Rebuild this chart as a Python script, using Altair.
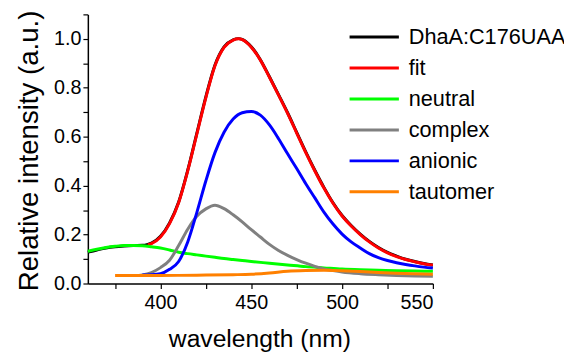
import altair as alt
import pandas as pd

series_names = ["DhaA:C176UAA", "fit", "neutral", "complex", "anionic", "tautomer"]
series_colors = ["#000000", "#ff0000", "#00ff00", "#808080", "#0000ff", "#ff8000"]

black_x = [360, 365, 370, 375, 380, 385, 390, 393, 395, 400, 405, 410, 415, 420, 425, 430, 435, 440, 443,
           445, 450, 455, 460, 465, 470, 475, 480, 485, 490, 495, 500, 505, 510, 515, 520, 525, 530, 535,
           540, 545, 550]
black_y = [0.128, 0.137, 0.145, 0.150, 0.153, 0.155, 0.156, 0.160, 0.165, 0.193, 0.248, 0.333, 0.463,
           0.614, 0.764, 0.893, 0.967, 0.996, 1.001, 0.998, 0.968, 0.915, 0.845, 0.772, 0.698, 0.618,
           0.538, 0.463, 0.393, 0.330, 0.278, 0.237, 0.202, 0.172, 0.147, 0.127, 0.112, 0.099, 0.090,
           0.082, 0.076]

fit_x = [393, 395, 400, 405, 410, 415, 420, 425, 430, 435, 440, 443, 445, 450, 455, 460, 465, 470, 475,
         480, 485, 490, 495, 500, 505, 510, 515, 520, 525, 530, 535, 540, 545, 550]
fit_y = [0.158, 0.163, 0.19, 0.245, 0.33, 0.46, 0.61, 0.76, 0.89, 0.965, 0.995, 1.0, 0.997, 0.966,
         0.913, 0.843, 0.77, 0.695, 0.615, 0.535, 0.46, 0.39, 0.328, 0.276, 0.235, 0.20, 0.17, 0.145,
         0.125, 0.11, 0.098, 0.089, 0.081, 0.075]

neutral_x = [360, 365, 370, 375, 380, 385, 390, 395, 400, 405, 410, 415, 420, 425, 430, 435, 440, 445,
             450, 460, 470, 480, 490, 500, 510, 520, 530, 540, 550]
neutral_y = [0.132, 0.140, 0.147, 0.152, 0.155, 0.155, 0.154, 0.150, 0.145, 0.137, 0.128, 0.122, 0.117,
             0.112, 0.107, 0.102, 0.098, 0.094, 0.090, 0.083, 0.076, 0.069, 0.064, 0.059, 0.056, 0.054,
             0.052, 0.051, 0.050]

complex_x = [388, 390, 395, 400, 405, 410, 415, 420, 425, 430, 435, 440, 445, 450, 455, 460, 465, 470,
             475, 480, 485, 490, 495, 500, 510, 520, 530, 540, 550]
complex_y = [0.033, 0.035, 0.045, 0.065, 0.095, 0.155, 0.222, 0.275, 0.305, 0.320, 0.306, 0.281, 0.252,
             0.220, 0.190, 0.160, 0.135, 0.115, 0.098, 0.083, 0.070, 0.060, 0.053, 0.047, 0.040, 0.036,
             0.033, 0.031, 0.030]

anionic_x = [390, 395, 400, 405, 410, 415, 420, 425, 430, 435, 440, 445, 450, 455, 460, 465, 470, 475,
             480, 485, 490, 495, 500, 505, 510, 515, 520, 525, 530, 535, 540, 545, 550]
anionic_y = [0.035, 0.036, 0.040, 0.058, 0.090, 0.170, 0.290, 0.420, 0.535, 0.618, 0.672, 0.698, 0.703,
             0.688, 0.648, 0.592, 0.530, 0.470, 0.408, 0.350, 0.292, 0.243, 0.202, 0.170, 0.145, 0.122,
             0.106, 0.094, 0.085, 0.078, 0.072, 0.067, 0.063]

tautomer_x = [375, 400, 420, 440, 450, 460, 470, 480, 490, 500, 510, 520, 530, 540, 550]
tautomer_y = [0.033, 0.033, 0.034, 0.036, 0.038, 0.043, 0.050, 0.053, 0.054, 0.052, 0.049, 0.045, 0.042,
              0.040, 0.038]

x_ticks = [375, 400, 425, 450, 475, 500, 525, 550]
y_ticks = [0.0, 0.1, 0.2, 0.3, 0.4, 0.5, 0.6, 0.7, 0.8, 0.9, 1.0, 1.1]

all_x = [black_x, fit_x, neutral_x, complex_x, anionic_x, tautomer_x]
all_y = [black_y, fit_y, neutral_y, complex_y, anionic_y, tautomer_y]

frames = []
for name, xs, ys in zip(series_names, all_x, all_y):
    frames.append(pd.DataFrame({"series": name, "wavelength": xs, "intensity": ys}))
df = pd.concat(frames, ignore_index=True)

FONT = "Liberation Sans"

color = alt.Color(
    "series:N",
    scale=alt.Scale(domain=series_names, range=series_colors),
    legend=alt.Legend(
        orient="none", legendX=261, legendY=12, title=None,
        symbolType="M-5,0H5", symbolSize=100, symbolStrokeWidth=3,
        symbolOffset=18.5, labelOffset=24, labelFontSize=22, labelFont=FONT,
        labelColor="black", rowPadding=9.4, padding=0, labelLimit=300,
    ),
)

x = alt.X(
    "wavelength:Q",
    scale=alt.Scale(domain=[360, 550], nice=False, zero=False),
    axis=alt.Axis(
        values=x_ticks,
        labelExpr="datum.value % 50 == 0 ? datum.label : ''",
        title="wavelength (nm)", titleFontSize=25, labelFontSize=20,
        titleX=174, titleY=64, titleBaseline="alphabetic",
        labelPadding=4, tickSize=5,
    ),
)
y = alt.Y(
    "intensity:Q",
    scale=alt.Scale(domain=[0, 1.1], nice=False, zero=False),
    axis=alt.Axis(
        values=y_ticks,
        labelExpr="round(datum.value * 10) % 2 == 0 ? format(datum.value, '.1f') : ''",
        title="Relative intensity (a.u.)", titleFontSize=28, labelFontSize=20,
        titleX=-51, titleY=138, titleBaseline="alphabetic",
        labelPadding=2, tickSize=5,
    ),
)

base = alt.Chart(df).mark_line(strokeWidth=3, interpolate="monotone").encode(x=x, y=y, color=color)
layers = [base.transform_filter(alt.datum.series == n) for n in series_names]

chart = alt.layer(*layers).properties(
    width=350, height=273,
    autosize=alt.AutoSizeParams(type="none"),
    padding={"left": 81, "top": 4, "right": 133, "bottom": 67},
).configure_view(stroke=None).configure_axis(
    grid=False, domainColor="black", domainWidth=1.5, tickColor="black", tickWidth=1.2,
    labelColor="black", titleColor="black", labelFont=FONT, titleFont=FONT,
    titleFontWeight="normal",
)

chart.save("out.html", embed_options={"renderer": "svg", "actions": False})
